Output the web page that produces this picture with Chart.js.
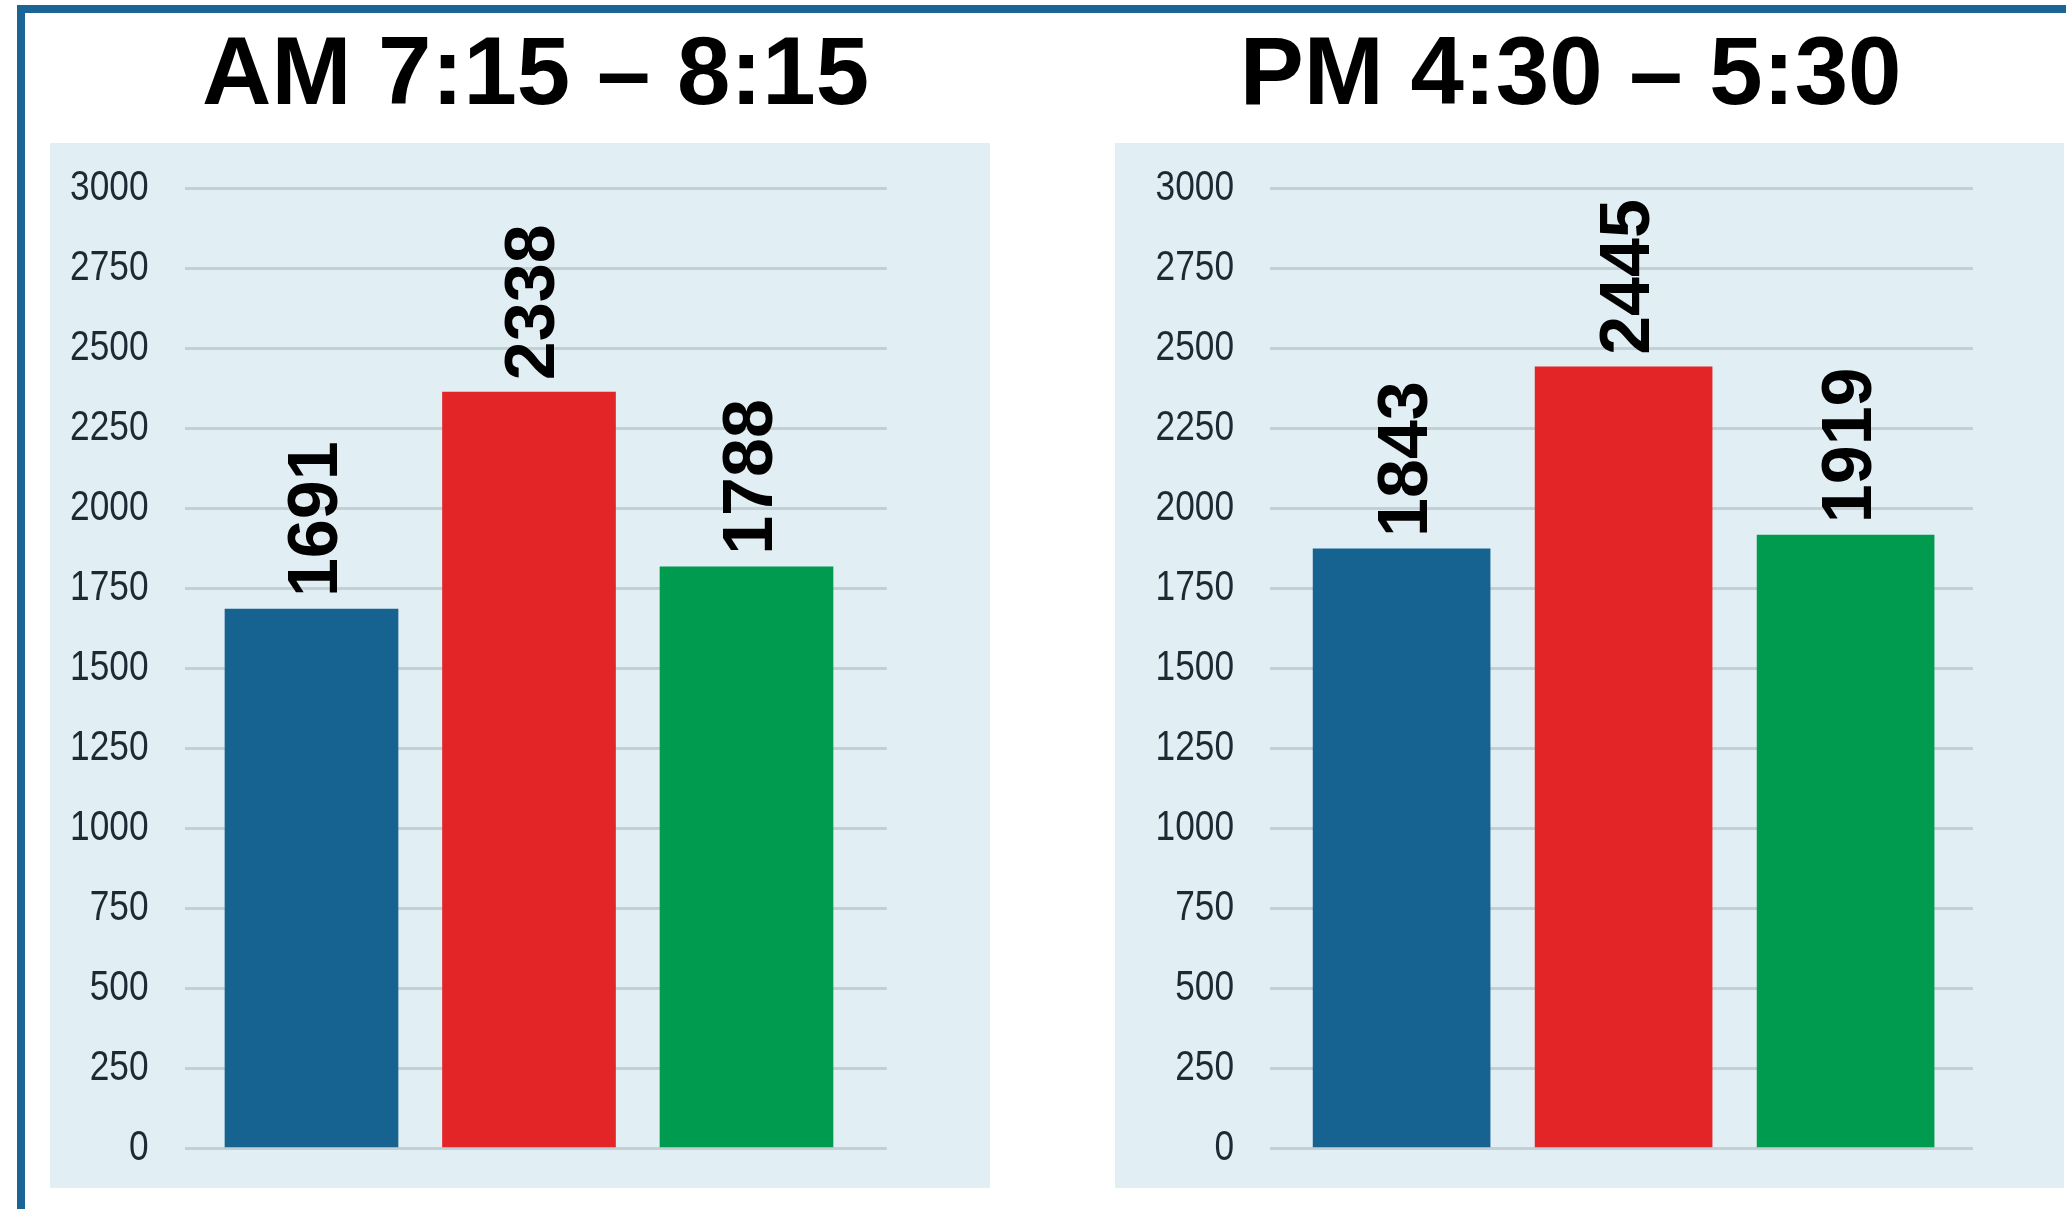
<!DOCTYPE html>
<html>
<head>
<meta charset="utf-8">
<script src="https://cdn.jsdelivr.net/npm/chart.js@4.4.1/dist/chart.umd.min.js"></script>
<style>
  html, body { margin: 0; padding: 0; background: #ffffff; }
  body { width: 2066px; height: 1209px; position: relative; overflow: hidden; }
  #frame { position: absolute; left: 17px; top: 5px; right: 0; bottom: 0;
           border-left: 8px solid #1a6496; border-top: 8px solid #1a6496; }
  .panel { position: absolute; background: #e1eef4; }
  #panelL { left: 50px; top: 143px; width: 940px; height: 1045px; }
  #panelR { left: 1115px; top: 143px; width: 949px; height: 1045px; }
  canvas { position: absolute; top: 0; }
  #chartL { left: 0px; }
  #chartR { left: 1033px; }
</style>
</head>
<body>
<div id="frame"></div>
<div class="panel" id="panelL"></div>
<div class="panel" id="panelR"></div>
<canvas id="chartL" width="1033" height="1209"></canvas>
<canvas id="chartR" width="1033" height="1209"></canvas>
<script>
// ---- data ----
const categories = ['Bar 1', 'Bar 2', 'Bar 3'];
const amTitle = 'AM 7:15 – 8:15';
const pmTitle = 'PM 4:30 – 5:30';
// bar heights
const amValues = [1685, 2363, 1817];
const pmValues = [1873, 2442, 1916];
// numbers printed above the bars
const amLabels = ['1691', '2338', '1788'];
const pmLabels = ['1843', '2445', '1919'];
const yMin = 0, yMax = 3000, yStep = 250;

// ---- styles ----
const barColors = ['#166392', '#e32528', '#009b4e'];
const tickFont = '"Liberation Sans", Arial, Helvetica, sans-serif';
const boldFont = '"Liberation Sans", Arial, Helvetica, sans-serif';

// value labels above the bars, rotated
const barLabelPlugin = {
  id: 'barLabels',
  afterDatasetsDraw(chart, args, opts) {
    const ctx = chart.ctx;
    const meta = chart.getDatasetMeta(0);
    ctx.save();
    ctx.font = 'bold ' + opts.size + 'px ' + boldFont;
    ctx.fillStyle = opts.color;
    ctx.textAlign = 'left';
    ctx.textBaseline = 'alphabetic';
    meta.data.forEach((bar, i) => {
      ctx.save();
      ctx.translate(bar.x, bar.y - opts.gap);
      ctx.rotate(-Math.PI / 2);
      ctx.fillText(opts.texts[i], 0, opts.size * 0.716 / 2);
      ctx.restore();
    });
    ctx.restore();
  }
};

// y tick labels drawn in a condensed (narrow) style from the library's own ticks
const narrowTicksPlugin = {
  id: 'narrowTicks',
  afterDraw(chart, args, opts) {
    const scale = chart.scales.y;
    const ctx = chart.ctx;
    ctx.save();
    ctx.font = opts.size + 'px ' + tickFont;
    ctx.fillStyle = opts.color;
    ctx.textAlign = 'right';
    ctx.textBaseline = 'middle';
    scale.ticks.forEach(t => {
      const y = scale.getPixelForValue(t.value);
      ctx.save();
      ctx.translate(chart.chartArea.left - opts.gap, y);
      ctx.scale(opts.squeeze, 1);
      ctx.fillText(String(t.value), 0, 0);
      ctx.restore();
    });
    ctx.restore();
  }
};

function makeChart(id, title, values, labels, cfg) {
  const points = values.map((v, i) => ({ x: i, y: v }));
  return new Chart(document.getElementById(id), {
    type: 'bar',
    data: {
      labels: categories,
      datasets: [{
        data: points,
        backgroundColor: barColors,
        borderWidth: 0,
        barThickness: cfg.barWidth
      }]
    },
    plugins: [barLabelPlugin, narrowTicksPlugin],
    options: {
      responsive: false,
      animation: false,
      events: [],
      layout: { padding: { left: cfg.padL, right: cfg.padR, top: 0, bottom: 60.7 } },
      plugins: {
        legend: { display: false },
        tooltip: { enabled: false },
        title: {
          display: true,
          text: title,
          fullSize: cfg.titleFull,
          color: '#000000',
          font: { family: boldFont, size: 96, weight: 'bold', lineHeight: 1 },
          padding: { top: 30, bottom: 62.3 }
        },
        barLabels: { texts: labels, size: 70, color: '#000000', gap: 12 },
        narrowTicks: { size: 43, color: '#1c2a33', gap: 36, squeeze: 0.82 }
      },
      scales: {
        x: {
          type: 'linear',
          display: false,
          offset: false,
          min: cfg.xMin,
          max: cfg.xMax,
          grid: { display: false }
        },
        y: {
          min: yMin,
          max: yMax,
          afterFit(scale) { scale.width = cfg.axisW; },
          border: { display: false },
          grid: { color: '#c2cfd5', lineWidth: 3, drawTicks: false },
          ticks: { stepSize: yStep, display: false }
        }
      }
    }
  });
}

makeChart('chartL', amTitle, amValues, amLabels, {
  padL: 34.5, padR: 146.3, axisW: 150, titleFull: false,
  xMin: -0.5839, xMax: 2.6446, barWidth: 173
});
makeChart('chartR', pmTitle, pmValues, pmLabels, {
  padL: 135.2, padR: 93, axisW: 101.8, titleFull: true,
  xMin: -0.5928, xMax: 2.5739, barWidth: 177
});
</script>
</body>
</html>
